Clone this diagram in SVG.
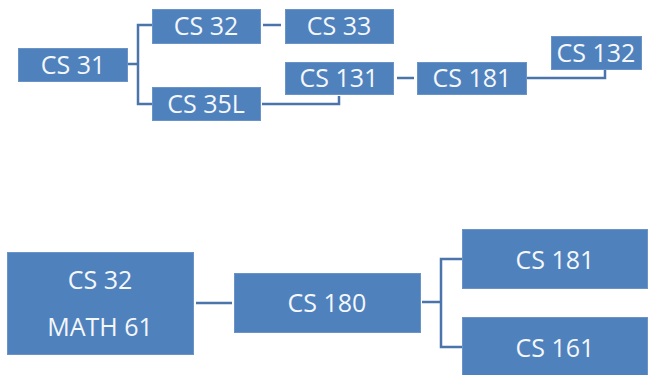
<svg xmlns="http://www.w3.org/2000/svg" width="654" height="375" viewBox="0 0 654 375">
<style>
.box{fill:#4F81BD;stroke:#6A93C8;stroke-width:1}
.lbl{font-family:"Open Sans","Liberation Sans",sans-serif;font-size:25px;fill:#F4F7FB;text-anchor:middle}
.ln{fill:none;stroke:#4A74AA;stroke-width:2.5}
</style>
<rect width="654" height="375" fill="#FFFFFF"/>
<g id="connectors">
<path class="ln" d="M127 64 H138 M152 25 H138 V104 H152"/>
<path class="ln" d="M263 25 H281"/>
<path class="ln" d="M262 104 H339 V96"/>
<path class="ln" d="M397 78 H414"/>
<path class="ln" d="M527 78 H605 V69"/>
<path class="ln" d="M196 303 H232"/>
<path class="ln" d="M422 302 H441 M462 259 H441 V347 H462"/>
</g>
<g id="cs31"><rect class="box" x="18.5" y="48.5" width="109" height="33"/><text class="lbl" x="73" y="73.5">CS 31</text></g>
<g id="cs32"><rect class="box" x="152.5" y="9.5" width="108" height="34"/><text class="lbl" x="206" y="34.5">CS 32</text></g>
<g id="cs35l"><rect class="box" x="152.5" y="87.5" width="108" height="33"/><text class="lbl" x="206" y="112.5">CS 35L</text></g>
<g id="cs33"><rect class="box" x="285.5" y="9.5" width="108" height="34"/><text class="lbl" x="339" y="34.5">CS 33</text></g>
<g id="cs131"><rect class="box" x="285.5" y="62.5" width="108" height="32"/><text class="lbl" x="339" y="86.5">CS 131</text></g>
<g id="cs181a"><rect class="box" x="417.5" y="62.5" width="109" height="32"/><text class="lbl" x="472" y="86.5">CS 181</text></g>
<g id="cs132"><rect class="box" x="551.5" y="36.5" width="90" height="33"/><text class="lbl" x="596" y="61.5">CS 132</text></g>
<g id="cs32math61"><rect class="box" x="7.5" y="252.5" width="186" height="102"/><text class="lbl" x="100" y="288.5">CS 32</text><text class="lbl" x="100" y="335.5">MATH 61</text></g>
<g id="cs180"><rect class="box" x="234.5" y="273.5" width="186" height="59"/><text class="lbl" x="327" y="311.5">CS 180</text></g>
<g id="cs181b"><rect class="box" x="462.5" y="229.5" width="185" height="59"/><text class="lbl" x="555" y="268.5">CS 181</text></g>
<g id="cs161"><rect class="box" x="462.5" y="317.5" width="185" height="60"/><text class="lbl" x="555" y="356.5">CS 161</text></g>
</svg>
